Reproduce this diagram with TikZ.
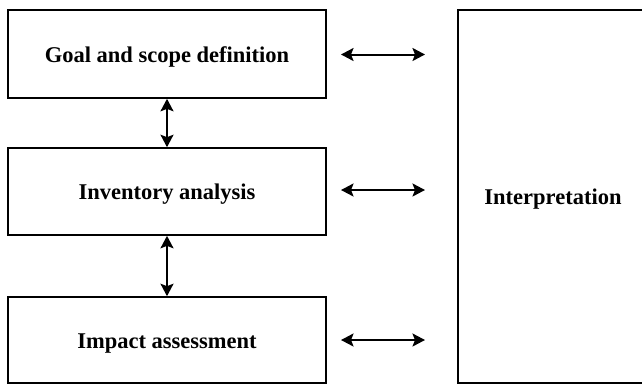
\documentclass[tikz,border=0pt]{standalone}
\usepackage{fontspec}
\setmainfont{Liberation Serif}
\usetikzlibrary{arrows.meta}
\tikzset{
  stagebox/.style={draw=black, line width=1.6pt, fill=white, inner sep=0pt,
    text height=16pt, text depth=0pt,
    font=\fontsize{22.5}{26}\selectfont\bfseries},
  link/.style={line width=2pt, {Stealth[length=12.5pt,width=13pt,inset=2.5pt]}-{Stealth[length=12.5pt,width=13pt,inset=2.5pt]}}
}
\begin{document}
\begin{tikzpicture}[x=1pt,y=-1pt]
\useasboundingbox (0,0) rectangle (642,384);
\node[stagebox, minimum width=318pt, minimum height=88pt] (goal) at (167,54) {Goal and scope definition};
\node[stagebox, minimum width=318pt, minimum height=87pt] (inv) at (167,191.5) {Inventory analysis};
\node[stagebox, minimum width=318pt, minimum height=86pt] (imp) at (167,340) {Impact assessment};
\node[stagebox, minimum width=190pt, minimum height=373pt] (interp) at (553,196.5) {Interpretation};
\draw[link] (goal.south) -- (inv.north);
\draw[link] (inv.south) -- (imp.north);
\coordinate (a1) at (341,54.5);
\coordinate (b1) at (425,54.5);
\coordinate (a2) at (341,190);
\coordinate (b2) at (425,190);
\coordinate (a3) at (341,340);
\coordinate (b3) at (425,340);
\draw[link] (a1) -- (b1);
\draw[link] (a2) -- (b2);
\draw[link] (a3) -- (b3);
\end{tikzpicture}
\end{document}
